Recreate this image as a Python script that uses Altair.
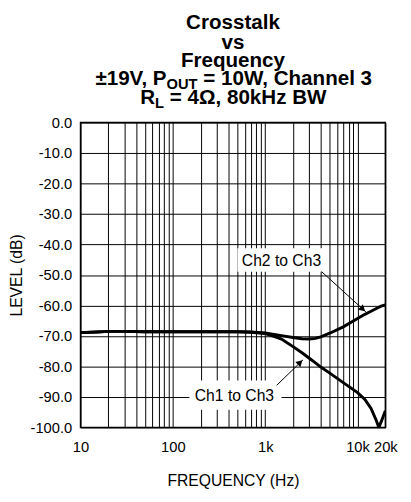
import altair as alt
import pandas as pd

# ---- data ----
freq = [10, 15, 20, 30, 50, 100, 200, 500, 700, 1000, 1200, 1500, 2000, 2500,
        3000, 3500, 4000, 5000, 7000, 10000, 12000, 14000, 16000, 17000, 18000, 20000]
ch1_to_ch3 = [-68.9, -68.7, -68.5, -68.5, -68.6, -68.6, -68.6, -68.6, -68.8, -69.2, -70.0,
              -71.0, -73.5, -75.5, -77.3, -78.8, -80.2, -82.2, -85.3, -88.6, -90.8,
              -93.8, -97.8, -100.0, -98.2, -94.5]
ch2_to_ch3 = [-68.9, -68.7, -68.5, -68.5, -68.6, -68.6, -68.6, -68.6, -68.7, -69.0, -69.4,
              -69.9, -70.5, -70.9, -71.0, -70.8, -70.3, -69.1, -67.0, -64.3, -62.9,
              -61.9, -61.0, -60.6, -60.2, -59.8]

x_grid_values = [10, 20, 30, 40, 50, 60, 70, 80, 90,
                 100, 200, 300, 400, 500, 600, 700, 800, 900,
                 1000, 2000, 3000, 4000, 5000, 6000, 7000, 8000, 9000,
                 10000, 20000]
x_label_values = [10, 100, 1000, 10000, 20000]
x_label_texts = ["10", "100", "1k", "10k", "20k"]
y_values = [0.0, -10.0, -20.0, -30.0, -40.0, -50.0, -60.0, -70.0, -80.0, -90.0, -100.0]

# annotations (data coordinates)
ann_text = ["Ch2 to Ch3", "Ch1 to Ch3"]
ann_freq = [1500, 464]
ann_db = [-45.3, -89.7]
ann_box_f1 = [500, 151]
ann_box_f2 = [4630, 1500]
ann_box_d1 = [-41.2, -84.6]
ann_box_d2 = [-48.9, -94.2]
arrow_f1 = [4080, 1330]
arrow_d1 = [-48.9, -86.2]
arrow_f2 = [12300, 2570]
arrow_d2 = [-62.1, -77.8]
head_f = [11400, 2390]
head_d = [-61.2, -78.7]
head_angle = [132, 46]

FONT = "Liberation Sans, Arial, Helvetica, sans-serif"
W, H = 311, 311

# ---- tables ----
curves = pd.DataFrame({
    "freq": freq * 2,
    "db": ch1_to_ch3 + ch2_to_ch3,
    "series": ["Ch1 to Ch3"] * len(freq) + ["Ch2 to Ch3"] * len(freq),
})
ann = pd.DataFrame({
    "text": ann_text, "freq": ann_freq, "db": ann_db,
    "bf1": ann_box_f1, "bf2": ann_box_f2, "bd1": ann_box_d1, "bd2": ann_box_d2,
    "af1": arrow_f1, "ad1": arrow_d1, "af2": arrow_f2, "ad2": arrow_d2,
    "hf": head_f, "hd": head_d, "ang": head_angle,
})

label_map = "{" + ",".join(f"'{v}':'{t}'" for v, t in zip(x_label_values, x_label_texts)) + "}"

xscale = alt.Scale(type="log", domain=[10, 20000], nice=False)
yscale = alt.Scale(domain=[-100, 0], nice=False)

GRID = "#000000"
x_axis = alt.Axis(
    values=x_grid_values, labelExpr=f"{label_map}[datum.value] || ''",
    labelOverlap=False, ticks=False, domain=False, grid=True,
    gridColor=GRID, gridWidth=1, gridOpacity=1,
    labelFont=FONT, labelFontSize=15, labelColor="black", labelPadding=13,
    labelFlush=False,
    title="FREQUENCY (Hz)", titleFont=FONT, titleFontSize=16, titleFontWeight="normal",
    titleColor="black", titlePadding=18,
)
y_axis = alt.Axis(
    values=y_values,
    labelExpr="(datum.value < 0 ? '-' : '') + format(abs(datum.value), '.1f')",
    labelOverlap=False, ticks=False, domain=False, grid=True,
    gridColor=GRID, gridWidth=1, gridOpacity=1,
    labelFont=FONT, labelFontSize=15, labelColor="black", labelPadding=9,
    labelFlush=False,
    title="LEVEL (dB)", titleFont=FONT, titleFontSize=16, titleFontWeight="normal",
    titleColor="black", titlePadding=6,
)

base = alt.Chart(curves)

lines = base.mark_line(strokeWidth=3, color="black", clip=True).encode(
    x=alt.X("freq:Q", scale=xscale, axis=x_axis),
    y=alt.Y("db:Q", scale=yscale, axis=y_axis),
    detail="series:N",
)

abase = alt.Chart(ann)
boxes = abase.mark_rect(color="white").encode(
    x=alt.X("bf1:Q", scale=xscale, axis=x_axis), x2="bf2:Q",
    y=alt.Y("bd1:Q", scale=yscale, axis=y_axis), y2="bd2:Q",
)
texts = abase.mark_text(font=FONT, fontSize=16, color="black", baseline="middle").encode(
    x=alt.X("freq:Q", scale=xscale, axis=x_axis), y=alt.Y("db:Q", scale=yscale, axis=y_axis),
    text="text:N",
)
arrows = abase.mark_rule(color="black", strokeWidth=1).encode(
    x=alt.X("af1:Q", scale=xscale, axis=x_axis), x2="af2:Q",
    y=alt.Y("ad1:Q", scale=yscale, axis=y_axis), y2="ad2:Q",
)
heads = abase.mark_point(shape="triangle-up", filled=True, color="black", size=55, opacity=1).encode(
    x=alt.X("hf:Q", scale=xscale, axis=x_axis), y=alt.Y("hd:Q", scale=yscale, axis=y_axis),
    angle=alt.Angle("ang:Q", scale=None),
)


def title_text(txt, x, y, size, align):
    return alt.Chart(pd.DataFrame({"t": [txt]})).mark_text(
        font=FONT, fontSize=size, fontWeight="bold", color="black",
        align=align, baseline="alphabetic",
    ).encode(x=alt.value(x), y=alt.value(y), text="t:N")


cx = W / 2
title_layers = [
    title_text("Crosstalk", cx, -95, 21, "center"),
    title_text("vs", cx, -75.5, 21, "center"),
    title_text("Frequency", cx, -56.5, 21, "center"),
    title_text("±19V, P", 87.8, -38, 21, "right"),
    title_text("OUT", 87.8, -34, 15, "left"),
    title_text("= 10W, Channel 3", 125.3, -38, 21, "left"),
    title_text("R", 76.1, -19, 21, "right"),
    title_text("L", 76.1, -15, 15, "left"),
    title_text("= 4Ω, 80kHz BW", 91.1, -19, 21, "left"),
]

chart = alt.layer(lines, boxes, texts, arrows, heads, *title_layers).properties(
    width=W, height=H,
    background="white",
    autosize=alt.AutoSizeParams(type="none"),
    padding={"left": 74, "top": 112, "right": 18, "bottom": 62},
).configure_view(stroke="black", strokeWidth=1.5)

chart.save("out.html", embed_options={"renderer": "svg", "actions": False})
